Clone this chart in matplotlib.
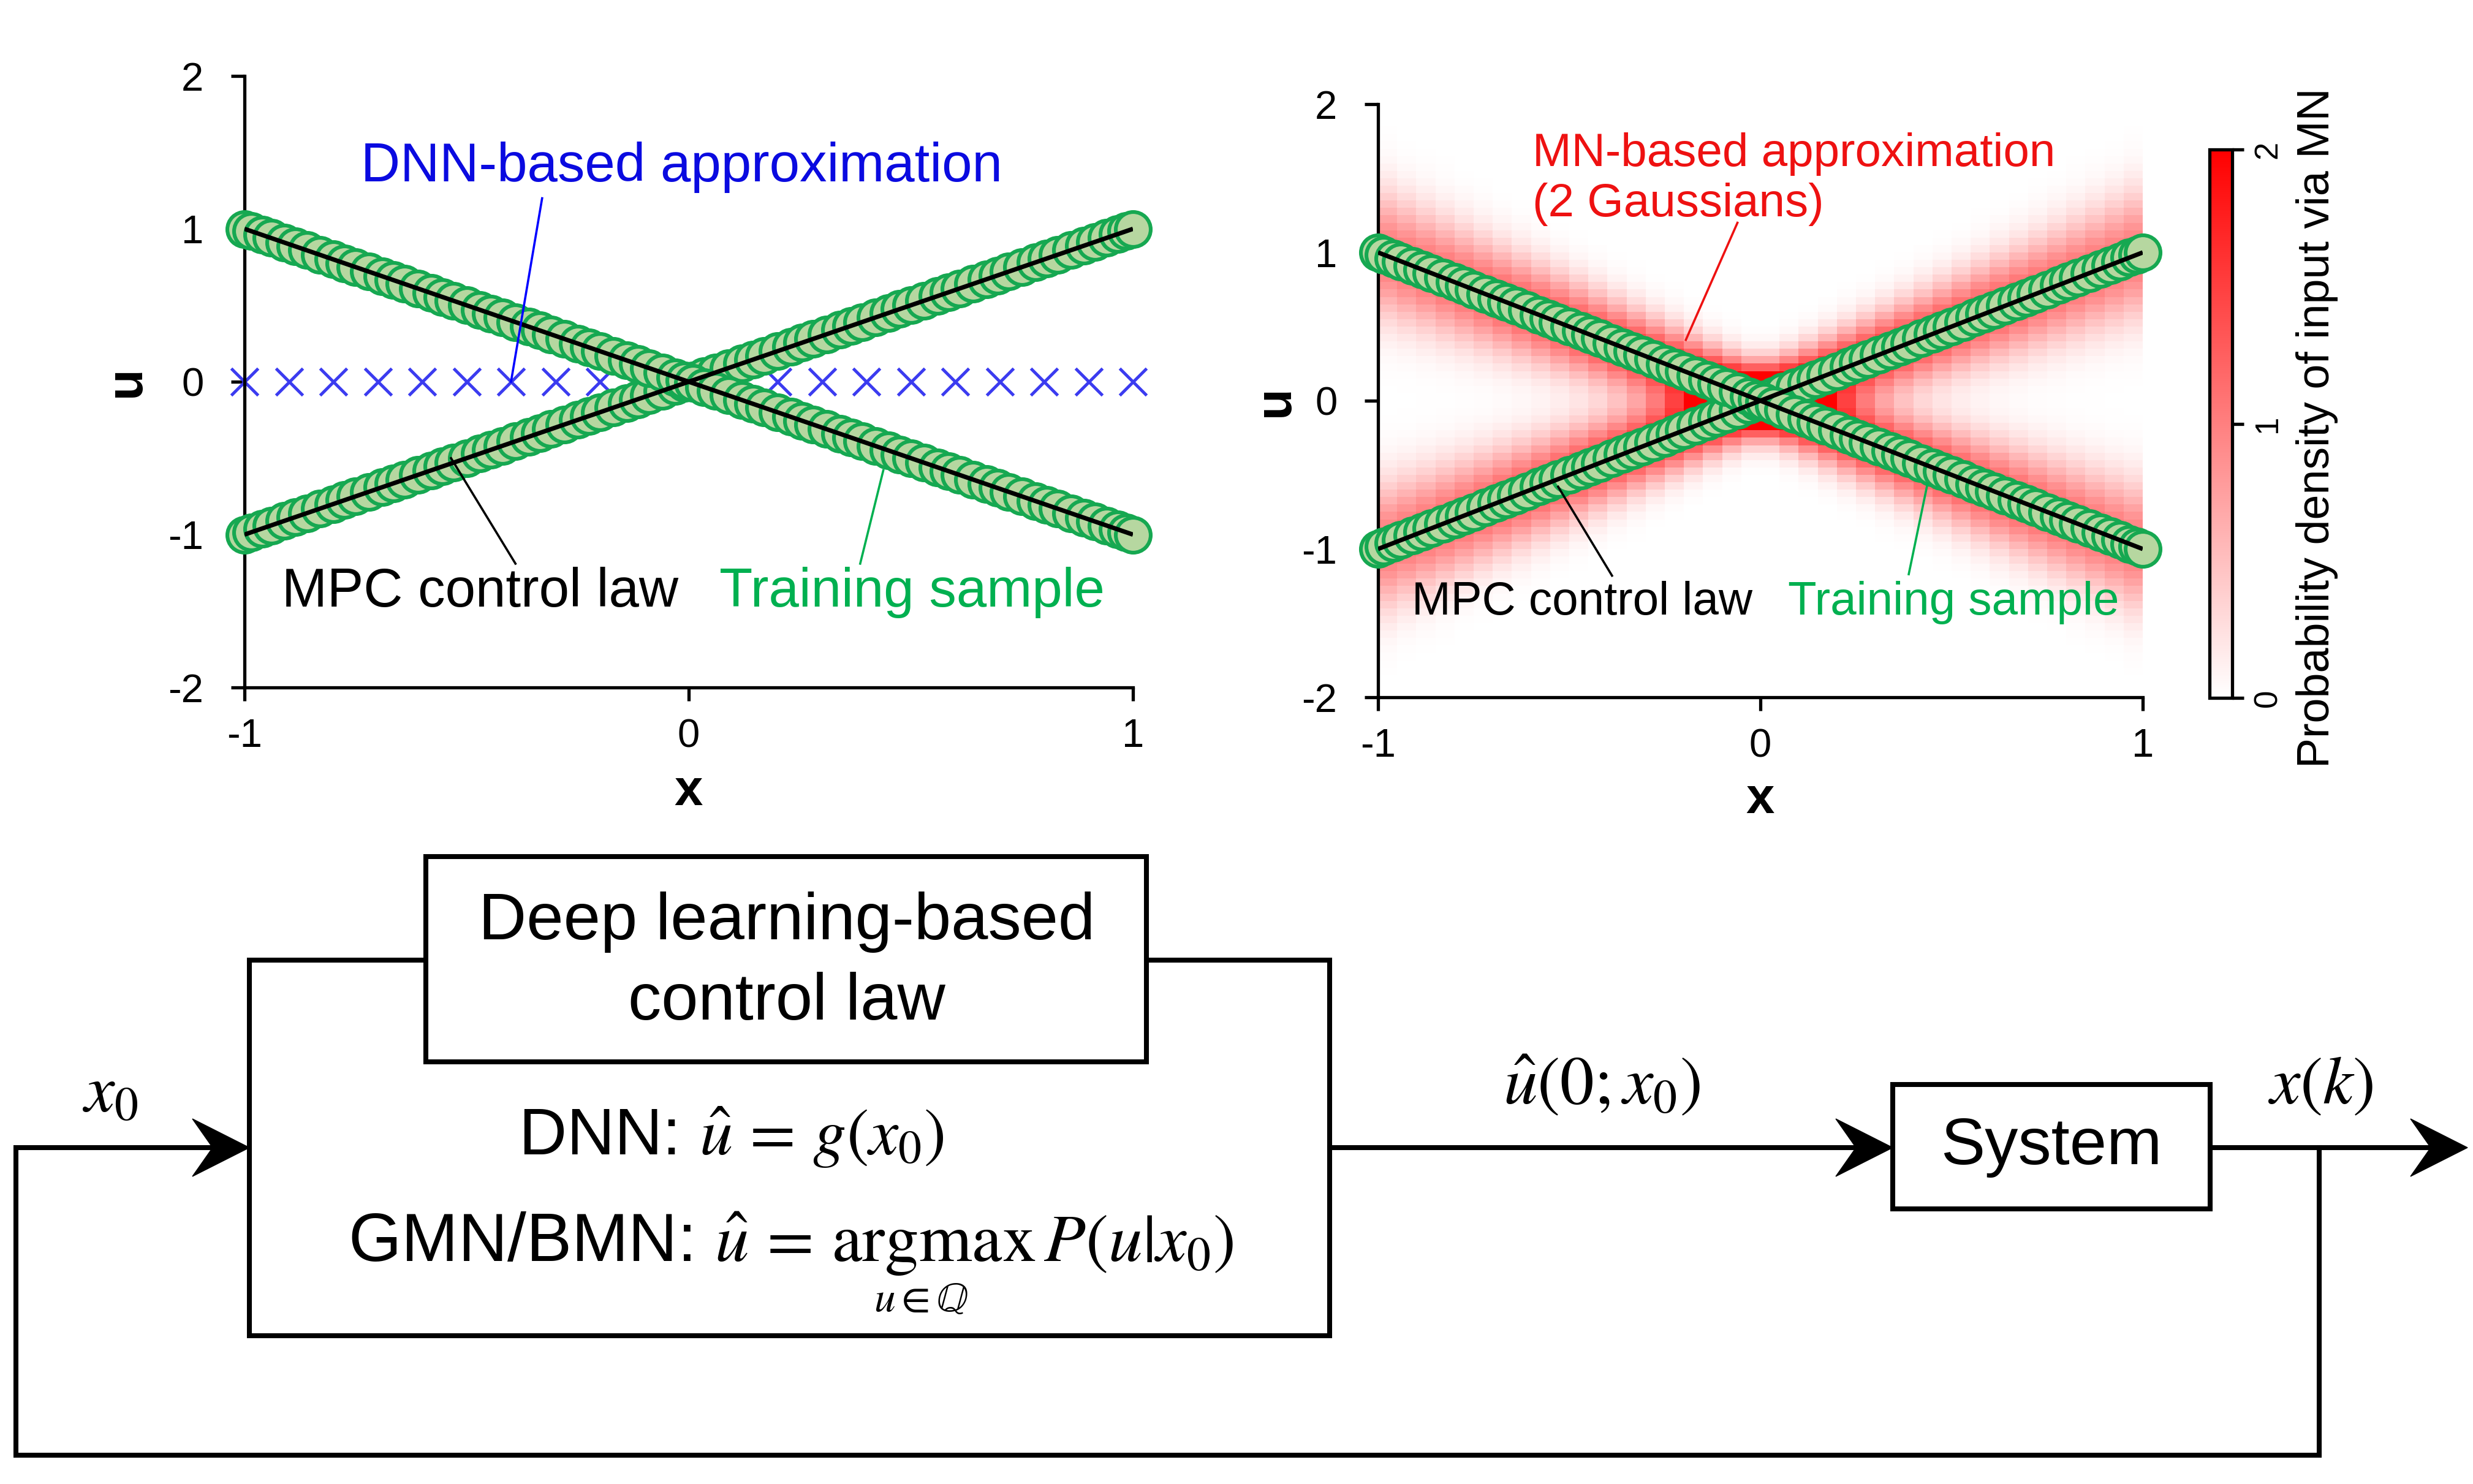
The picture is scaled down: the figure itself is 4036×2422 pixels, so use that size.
import numpy as np
import matplotlib.pyplot as plt
from matplotlib.colors import LinearSegmentedColormap
from matplotlib.patches import Rectangle, Polygon

plt.rcParams['font.family'] = ['Liberation Sans', 'DejaVu Sans']
plt.rcParams['mathtext.fontset'] = 'stix'
plt.rcParams['axes.unicode_minus'] = False

# ---- data ----
x_ticks = [-1, 0, 1]
u_ticks = [-2, -1, 0, 1, 2]
cbar_ticks = [0, 1, 2]

# MPC control law: two branches u = x and u = -x
mpc_x = [-1.0, 1.0]
mpc_u_up = [-1.0, 1.0]
mpc_u_down = [1.0, -1.0]

# training samples lie on both branches
train_x = [-1.0, -0.985, -0.96, -0.94, -0.91, -0.885, -0.86, -0.83, -0.80, -0.775,
           -0.75, -0.72, -0.69, -0.665, -0.64, -0.61, -0.58, -0.555, -0.53, -0.50,
           -0.47, -0.445, -0.42, -0.39, -0.36, -0.335, -0.31, -0.28, -0.25, -0.225,
           -0.20, -0.17, -0.14, -0.115, -0.09, -0.06, -0.03, -0.01, 0.01, 0.035,
           0.06, 0.09, 0.12, 0.145, 0.17, 0.20, 0.23, 0.255, 0.28, 0.31,
           0.34, 0.365, 0.39, 0.42, 0.45, 0.475, 0.50, 0.53, 0.56, 0.585,
           0.61, 0.64, 0.67, 0.695, 0.72, 0.75, 0.78, 0.805, 0.83, 0.86,
           0.89, 0.915, 0.94, 0.965, 0.985, 1.0]
train_u_up = list(train_x)
train_u_down = [-v for v in train_x]

# DNN output: u = 0 everywhere
dnn_x = [-1.0, -0.9, -0.8, -0.7, -0.6, -0.5, -0.4, -0.3, -0.2, -0.1, 0.0,
         0.1, 0.2, 0.3, 0.4, 0.5, 0.6, 0.7, 0.8, 0.9, 1.0]
dnn_u = [0.0] * len(dnn_x)

# mixture network: 2 Gaussians with means u = +x and u = -x
mn_scales = [0.75, 0.75]
mn_slopes = [1.0, -1.0]
mn_sigma_center = 0.14
mn_sigma_edge = 0.28
cell = 0.05

# ---- figure ----
W, H = 4036, 2422
fig = plt.figure(figsize=(W / 200, H / 200), dpi=200)

green_edge = '#16a851'
green_fill = '#b6d7a0'
green_text = '#00b050'


def style_axes(ax):
    ax.set_xlim(-1, 1)
    ax.set_ylim(-2, 2)
    ax.set_xticks(x_ticks)
    ax.set_yticks(u_ticks)
    for s in ['top', 'right']:
        ax.spines[s].set_visible(False)
    for s in ['left', 'bottom']:
        ax.spines[s].set_linewidth(1.9)
    ax.tick_params(axis='both', direction='out', length=8, width=1.9, labelsize=23.5)
    ax.tick_params(axis='y', pad=16)
    ax.tick_params(axis='x', pad=10)
    ax.set_facecolor('none')


def draw_samples(ax):
    for uu in [train_u_up, train_u_down]:
        ax.plot(train_x, uu, 'o', ms=20.5, mfc=green_fill, mec=green_edge, mew=2.2,
                ls='none', zorder=3, clip_on=False)
    ax.plot(mpc_x, mpc_u_up, color='black', lw=2.6, zorder=4, solid_capstyle='butt')
    ax.plot(mpc_x, mpc_u_down, color='black', lw=2.6, zorder=4, solid_capstyle='butt')


# left panel: DNN
ax1 = fig.add_axes([399 / W, 1 - 1122 / H, 1450 / W, 998 / H])
style_axes(ax1)
ax1.plot(dnn_x, dnn_u, 'x', ms=16, mew=1.8, color='#3b3bf0', ls='none', zorder=2, clip_on=False)
draw_samples(ax1)
ax1.text(-0.016, 1.31, 'DNN-based approximation', color='#0a0ae0', fontsize=32,
         ha='center', va='baseline')
ax1.plot([-0.33, -0.40], [1.2, 0.0], color='#0000ff', lw=1.3, zorder=5)
ax1.text(-0.47, -1.47, 'MPC control law', color='black', fontsize=32, ha='center', va='baseline')
ax1.plot([-0.39, -0.535], [-1.19, -0.5], color='black', lw=1.3, zorder=5)
ax1.text(0.502, -1.47, 'Training sample', color=green_text, fontsize=32, ha='center', va='baseline')
ax1.plot([0.386, 0.438], [-1.19, -0.58], color=green_text, lw=1.3, zorder=5)
ax1.text(-0.133, 0.5, 'u', transform=ax1.transAxes, rotation=90, fontsize=30,
         fontweight='bold', ha='center', va='center')
ax1.text(0.5, -0.17, 'x', transform=ax1.transAxes, fontsize=30, fontweight='bold',
         ha='center', va='center')

# right panel: MN with density heatmap
ax2 = fig.add_axes([2249 / W, 1 - 1138 / H, 1248 / W, 968 / H])
style_axes(ax2)
x_edges = np.arange(-1.0, 1.0 + cell / 2, cell)
u_edges = np.arange(-2.0, 2.0 + cell / 2, cell)
xc = 0.5 * (x_edges[:-1] + x_edges[1:])
uc = 0.5 * (u_edges[:-1] + u_edges[1:])
XC, UC = np.meshgrid(xc, uc)
sig = mn_sigma_center + (mn_sigma_edge - mn_sigma_center) * np.abs(XC)
dens = np.zeros_like(XC)
for w, s in zip(mn_scales, mn_slopes):
    dens += w / (sig * np.sqrt(2 * np.pi)) * np.exp(-0.5 * ((UC - s * XC) / sig) ** 2)
cmap = LinearSegmentedColormap.from_list('wr', ['#ffffff', '#ff0000'])
mesh = ax2.pcolormesh(x_edges, u_edges, dens, cmap=cmap, vmin=0, vmax=2, zorder=1)
draw_samples(ax2)
ax2.text(-0.596, 1.583, 'MN-based approximation', color='#ee1111', fontsize=27.5,
         ha='left', va='baseline')
ax2.text(-0.596, 1.244, '(2 Gaussians)', color='#ee1111', fontsize=27.5,
         ha='left', va='baseline')
ax2.plot([-0.06, -0.195], [1.2, 0.41], color='#ee1111', lw=1.3, zorder=5)
ax2.text(-0.466, -1.443, 'MPC control law', color='black', fontsize=27.5, ha='center', va='baseline')
ax2.plot([-0.388, -0.529], [-1.18, -0.58], color='black', lw=1.3, zorder=5)
ax2.text(0.506, -1.443, 'Training sample', color=green_text, fontsize=27.5, ha='center', va='baseline')
ax2.plot([0.388, 0.437], [-1.17, -0.56], color=green_text, lw=1.3, zorder=5)
ax2.text(-0.135, 0.5, 'u', transform=ax2.transAxes, rotation=90, fontsize=30,
         fontweight='bold', ha='center', va='center')
ax2.text(0.5, -0.173, 'x', transform=ax2.transAxes, fontsize=30, fontweight='bold',
         ha='center', va='center')

cax = fig.add_axes([3606 / W, 1 - 1139 / H, 37 / W, 895 / H])
cb = fig.colorbar(mesh, cax=cax, ticks=cbar_ticks)
cb.outline.set_linewidth(1.9)
cax.tick_params(direction='out', length=7, width=1.9, labelsize=19, pad=5)
for t in cax.get_yticklabels():
    t.set_rotation(90)
    t.set_va('center')
fig.text(3781 / W, 1 - 698 / H, 'Probability density of input via MN', rotation=90,
         fontsize=26.5, ha='center', va='center')

# bottom: block diagram in pixel coordinates
axd = fig.add_axes([0, 0, 1, 1], zorder=-1)
axd.set_xlim(0, W)
axd.set_ylim(H, 0)
axd.axis('off')
LW = 2.9
yl = 1873


def head(tx, y):
    axd.add_patch(Polygon([[tx, y], [tx - 93, y - 47], [tx - 60, y], [tx - 93, y + 47]],
                          closed=True, fc='black', ec='black', lw=0.5, zorder=4))


axd.add_patch(Rectangle((407, 1567), 2170 - 407, 2180 - 1567, fill=False, lw=LW, ec='black', zorder=2))
axd.add_patch(Rectangle((695, 1398), 1871 - 695, 1733 - 1398, fc='white', lw=LW, ec='black', zorder=3))
axd.add_patch(Rectangle((3089, 1770), 3607 - 3089, 1973 - 1770, fc='white', lw=LW, ec='black', zorder=3))
axd.plot([3785, 3785, 26, 26, 345], [yl, 2375, 2375, yl, yl], color='black', lw=LW,
         solid_joinstyle='miter', zorder=2)
head(407, yl)
axd.plot([2170, 3030], [yl, yl], color='black', lw=LW, zorder=2)
head(3089, yl)
axd.plot([3607, 3970], [yl, yl], color='black', lw=LW, zorder=2)
head(4027, yl)

axd.text(1284, 1505, 'Deep learning-based', fontsize=39, ha='center', va='center')
axd.text(1284, 1636, 'control law', fontsize=39, ha='center', va='center')
axd.text(1193, 1856, r'DNN: $\hat{u}\,=\,g(x_0)$', fontsize=39, ha='center', va='center')
axd.text(1291, 2030, r'GMN/BMN: $\hat{u}\,=\,\mathrm{argmax}\,P(u|x_0)$', fontsize=40,
         ha='center', va='center')
axd.text(1503, 2122, r'$u\in\mathbb{Q}$', fontsize=25, ha='center', va='center')
axd.text(180, 1785, r'$x_0$', fontsize=40, ha='center', va='center')
axd.text(2614, 1772, r'$\hat{u}(0;x_0)$', fontsize=40, ha='center', va='center')
axd.text(3787, 1772, r'$x(k)$', fontsize=40, ha='center', va='center')
axd.text(3348, 1872, 'System', fontsize=39, ha='center', va='center')

fig.savefig('out.png', dpi=200)
